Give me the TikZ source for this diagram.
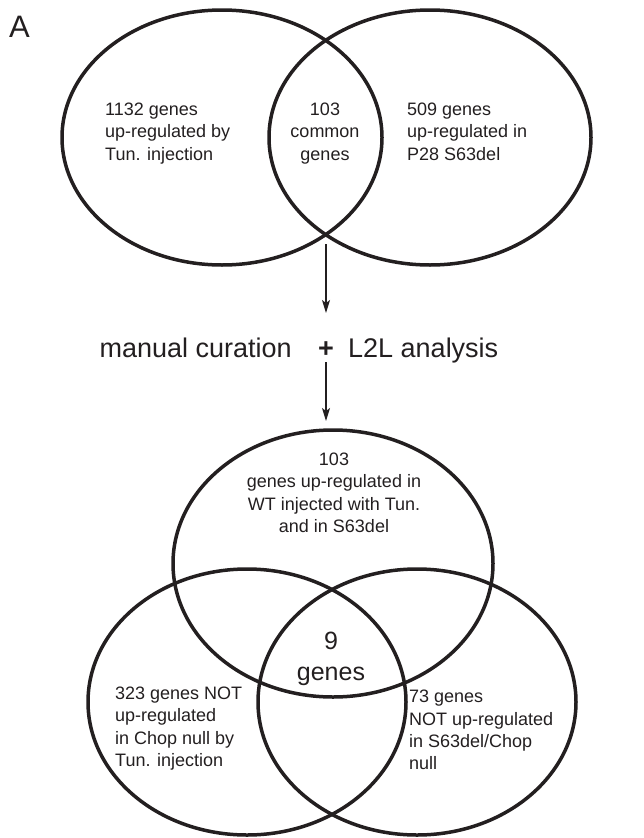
\documentclass[tikz,border=0pt]{standalone}
\usepackage{fontspec}
\setmainfont{Liberation Sans}
\usetikzlibrary{shapes.geometric,arrows.meta}
\definecolor{ink}{HTML}{231F20}
\newcommand{\fls}{\rule{0pt}{0.75em}}
\begin{document}
\begin{tikzpicture}[x=1pt,y=-1pt,
  venn/.style={ellipse, draw=ink, line width=3.5pt, inner sep=0pt},
  lbl/.style={inner sep=0pt, text=ink, font=\fontsize{18}{22.4}\selectfont},
  big/.style={inner sep=0pt, text=ink, font=\fontsize{27}{32}\selectfont},
  conn/.style={draw=ink, line width=1.5pt, -{Stealth[length=13pt,width=8pt,inset=3pt]}}]
\useasboundingbox (0,0) rectangle (644,838);
% panel letter
\node[inner sep=0pt, text=ink, font=\fontsize{31}{36}\selectfont, anchor=base west] (panA) at (9,37) {A};
% top Venn
\node[venn, minimum width=320pt, minimum height=255pt] (tun) at (222,137.5) {};
\node[venn, minimum width=322pt, minimum height=255pt] (s63) at (430,137.5) {};
\node[lbl, align=left, anchor=north west] (t1) at (105,101.5) {\fls 1132 genes\\up-regulated by\\Tun. injection};
\node[lbl, align=center, anchor=north] (t2) at (325,101.5) {\fls 103\\common\\genes};
\node[lbl, align=left, anchor=north west] (t3) at (407,101.5) {\fls 509 genes\\up-regulated in\\P28 S63del};
% arrows and curation text
\coordinate (a1s) at (326,244);
\coordinate (a1e) at (326,313);
\draw[conn] (a1s) -- (a1e);
\node[big, anchor=base east] (cur) at (292,357) {manual curation};
\node[big, anchor=base] (plus) at (326,357) {\textbf{+}};
\node[big, anchor=base west] (l2l) at (348,357) {L2L analysis};
\coordinate (a2s) at (326,362);
\coordinate (a2e) at (326,421);
\draw[conn] (a2s) -- (a2e);
% bottom Venn
\node[venn, minimum width=320pt, minimum height=267pt] (wt) at (333,563.5) {};
\node[venn, minimum width=318pt, minimum height=266pt] (chop) at (247,702) {};
\node[venn, minimum width=318pt, minimum height=266pt] (dbl) at (417,702) {};
\node[lbl, align=center, anchor=north] (b1) at (334,451.5) {\fls 103\\genes up-regulated in\\WT injected with Tun.\\and in S63del};
\node[inner sep=0pt, text=ink, font=\fontsize{25}{30.5}\selectfont, align=center, anchor=north] (b2) at (331,631) {\fls 9\\genes};
\node[lbl, align=left, anchor=north west] (b3) at (115,685.5) {\fls 323 genes NOT\\up-regulated\\in Chop null by\\Tun. injection};
\node[lbl, align=left, anchor=north west] (b4) at (409,689) {\fls 73 genes\\NOT up-regulated\\in S63del/Chop\\null};
\end{tikzpicture}
\end{document}
